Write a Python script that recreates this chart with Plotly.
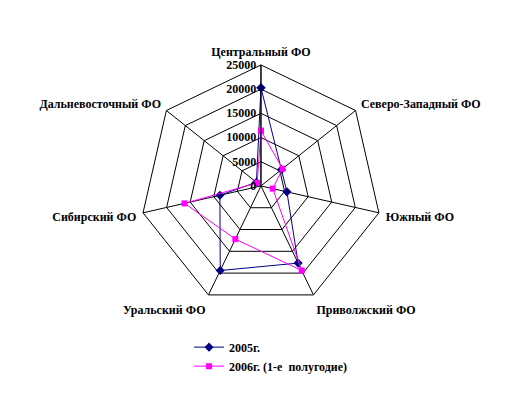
import plotly.graph_objects as go

categories = ["Центральный ФО", "Северо-Западный ФО", "Южный ФО", "Приволжский ФО",
              "Уральский ФО", "Сибирский ФО", "Дальневосточный ФО"]
values_2005 = [20300, 5400, 5500, 17700, 19400, 8700, 1200]
values_2006 = [11400, 5700, 2500, 19400, 12200, 16200, 1000]
series_names = ["2005г.", "2006г. (1-е  полугодие)"]
radial_ticks = [0, 5000, 10000, 15000, 20000, 25000]

font_family = "Liberation Serif"

fig = go.Figure()
fig.add_trace(go.Scatterpolar(
    r=values_2005 + values_2005[:1], theta=categories + categories[:1],
    mode="lines+markers", name=series_names[0],
    line=dict(color="#000080", width=1),
    marker=dict(symbol="diamond", size=7, color="#000080"),
))
fig.add_trace(go.Scatterpolar(
    r=values_2006 + values_2006[:1], theta=categories + categories[:1],
    mode="lines+markers", name=series_names[1],
    line=dict(color="#FF00FF", width=1),
    marker=dict(symbol="square", size=6, color="#FF00FF"),
))

fig.update_layout(
    width=528, height=396,
    margin=dict(l=0, r=0, t=0, b=0),
    paper_bgcolor="white",
    font=dict(family=font_family, size=12, color="black"),
    polar=dict(
        domain=dict(x=[0.265, 0.7235], y=[0.225, 0.836]),
        bgcolor="white",
        gridshape="linear",
        angularaxis=dict(
            direction="clockwise", rotation=90,
            categoryorder="array", categoryarray=categories,
            showline=True, linecolor="black", linewidth=1,
            gridcolor="black", gridwidth=1,
            ticks="outside", ticklen=4, tickcolor="rgba(0,0,0,0)",
            tickfont=dict(family=font_family, size=12, color="black", weight="bold"),
        ),
        radialaxis=dict(
            range=[0, 25000], tickvals=radial_ticks,
            angle=90, tickangle=90, side="counterclockwise",
            showline=True, linecolor="black", linewidth=1,
            gridcolor="black", gridwidth=1,
            ticks="", tickformat="d",
            tickfont=dict(family=font_family, size=12, color="black", weight="bold"),
        ),
    ),
    showlegend=True,
    legend=dict(
        x=0.358, y=0.16, xanchor="left", yanchor="top",
        font=dict(family=font_family, size=12, color="black", weight="bold"),
        bgcolor="rgba(0,0,0,0)", tracegroupgap=0, itemwidth=30,
    ),
)

fig.write_html("out.html")
